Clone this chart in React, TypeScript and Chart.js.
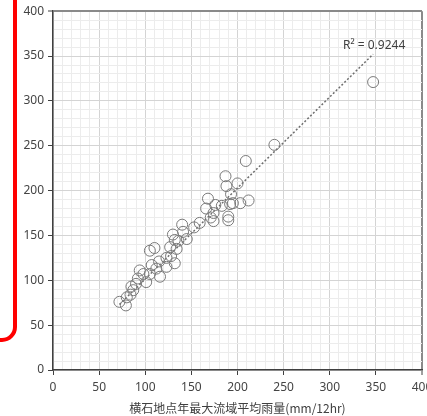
import React, { useEffect, useRef } from 'react';
import { Chart, registerables } from 'chart.js';

Chart.register(...registerables);

// Annual max basin-average rainfall at Yokoishi (x) vs. the paired station (y), mm/12hr
const rainfallX = [
  347, 240, 209, 187, 200, 188, 193, 212, 203, 195, 192, 183, 168, 176, 166, 174, 190, 190,
  171, 174, 159, 153, 140, 130, 141, 132, 136, 145, 127, 110, 105, 134, 128, 123, 115, 132,
  123, 107, 112, 94, 105, 98, 116, 92, 101, 90, 85, 87, 84, 80, 72, 79,
];
const rainfallY = [
  321, 251, 233, 216, 208, 205, 196, 189, 186, 186, 185, 183, 191, 184, 180, 175, 171, 167,
  170, 166, 164, 159, 162, 151, 154, 145, 144, 146, 137, 136, 133, 135, 127, 125, 121, 119,
  115, 117, 113, 111, 107, 107, 104, 102, 98, 96, 93, 89, 84, 81, 76, 72,
];
const axisMin = 0;
const axisMax = 400;
const majorStep = 50;
const minorStep = 10;
const R2_LABEL = 'R² = 0.9244';
const X_TITLE = '横石地点年最大流域平均雨量(mm/12hr)';

// Least-squares trend line with the intercept fixed at 0 (as in the source spreadsheet)
function originFit(xs: number[], ys: number[]) {
  let sxy = 0;
  let sxx = 0;
  for (let i = 0; i < xs.length; i++) {
    sxy += xs[i] * ys[i];
    sxx += xs[i] * xs[i];
  }
  return sxy / sxx;
}

export default function App() {
  const ref = useRef<HTMLCanvasElement>(null);

  useEffect(() => {
    if (!ref.current) return;
    const points = rainfallX.map((x, i) => ({ x, y: rainfallY[i] }));
    const slope = originFit(rainfallX, rainfallY);
    const minX = Math.min(...rainfallX);
    const maxX = Math.max(...rainfallX);
    const trend = [
      { x: minX, y: slope * minX },
      { x: maxX, y: slope * maxX },
    ];

    const gridColor = (c: any) => {
      const v = c.tick?.value;
      if (v === axisMax) return '#8a8a8a';
      return v % majorStep === 0 ? '#d4d4d4' : '#ececec';
    };
    const gridWidth = (c: any) => (c.tick?.value === axisMax ? 2 : 1);
    const tickColor = (c: any) =>
      c.tick?.value % majorStep === 0 ? '#404040' : 'rgba(0,0,0,0)';
    const tickFont = { family: '"Noto Sans", sans-serif', size: 12 };

    const r2Plugin = {
      id: 'r2label',
      afterDatasetsDraw(chart: any) {
        const { ctx, scales } = chart;
        const px = scales.x.getPixelForValue(trend[1].x);
        const py = scales.y.getPixelForValue(trend[1].y);
        ctx.save();
        ctx.font = '12px "Noto Sans", sans-serif';
        ctx.fillStyle = '#404040';
        ctx.textAlign = 'center';
        ctx.textBaseline = 'bottom';
        ctx.fillText(R2_LABEL, px + 1, py - 3);
        ctx.restore();
      },
    };

    const chart = new Chart(ref.current, {
      type: 'scatter',
      data: {
        datasets: [
          {
            data: points,
            pointRadius: 5.5,
            pointHoverRadius: 5.5,
            pointBorderWidth: 1,
            borderColor: '#7a7a7a',
            backgroundColor: 'rgba(0,0,0,0)',
          },
          {
            type: 'line',
            data: trend,
            borderColor: '#6e6e6e',
            borderWidth: 1.5,
            borderDash: [2, 2],
            pointRadius: 0,
            fill: false,
          } as any,
        ],
      },
      options: {
        responsive: false,
        animation: false,
        devicePixelRatio: 1,
        layout: { padding: { top: 10, right: 23, left: 0, bottom: 0 } },
        plugins: { legend: { display: false }, tooltip: { enabled: false } },
        scales: {
          x: {
            type: 'linear',
            min: axisMin,
            max: axisMax,
            ticks: {
              stepSize: minorStep,
              autoSkip: false,
              maxRotation: 0,
              padding: 5,
              color: '#444444',
              font: tickFont,
              callback: (v: any) => (v % majorStep === 0 ? String(v) : ''),
            },
            grid: {
              color: gridColor,
              lineWidth: gridWidth,
              tickColor,
              tickWidth: 1,
              tickLength: 5,
            },
            border: { color: '#404040', width: 1.5 },
            title: {
              display: true,
              text: X_TITLE,
              color: '#404040',
              font: { family: '"Noto Sans CJK JP", sans-serif', size: 12 },
              padding: { top: 4, bottom: 0 },
            },
            afterFit: (s: any) => {
              s.height = 46;
            },
          },
          y: {
            type: 'linear',
            min: axisMin,
            max: axisMax,
            ticks: {
              stepSize: minorStep,
              autoSkip: false,
              padding: 4,
              color: '#444444',
              font: tickFont,
              callback: (v: any) => (v % majorStep === 0 ? String(v) : ''),
            },
            grid: {
              color: gridColor,
              lineWidth: gridWidth,
              tickColor,
              tickWidth: 1,
              tickLength: 5,
            },
            border: { color: '#404040', width: 1.5 },
            afterFit: (s: any) => {
              s.width = 53;
            },
          },
        },
      },
      plugins: [r2Plugin],
    });
    return () => chart.destroy();
  }, []);

  return (
    <div
      style={{
        position: 'absolute',
        left: 0,
        top: 0,
        width: 427,
        height: 416,
        overflow: 'hidden',
        background: '#ffffff',
      }}
    >
      <canvas
        ref={ref}
        width={445}
        height={416}
        style={{ position: 'absolute', left: 0, top: 0, width: 445, height: 416 }}
      />
      <div
        style={{
          position: 'absolute',
          left: -30,
          top: -30,
          width: 47,
          height: 372,
          boxSizing: 'border-box',
          border: '4px solid #ff0000',
          borderRadius: 15,
        }}
      />
    </div>
  );
}
